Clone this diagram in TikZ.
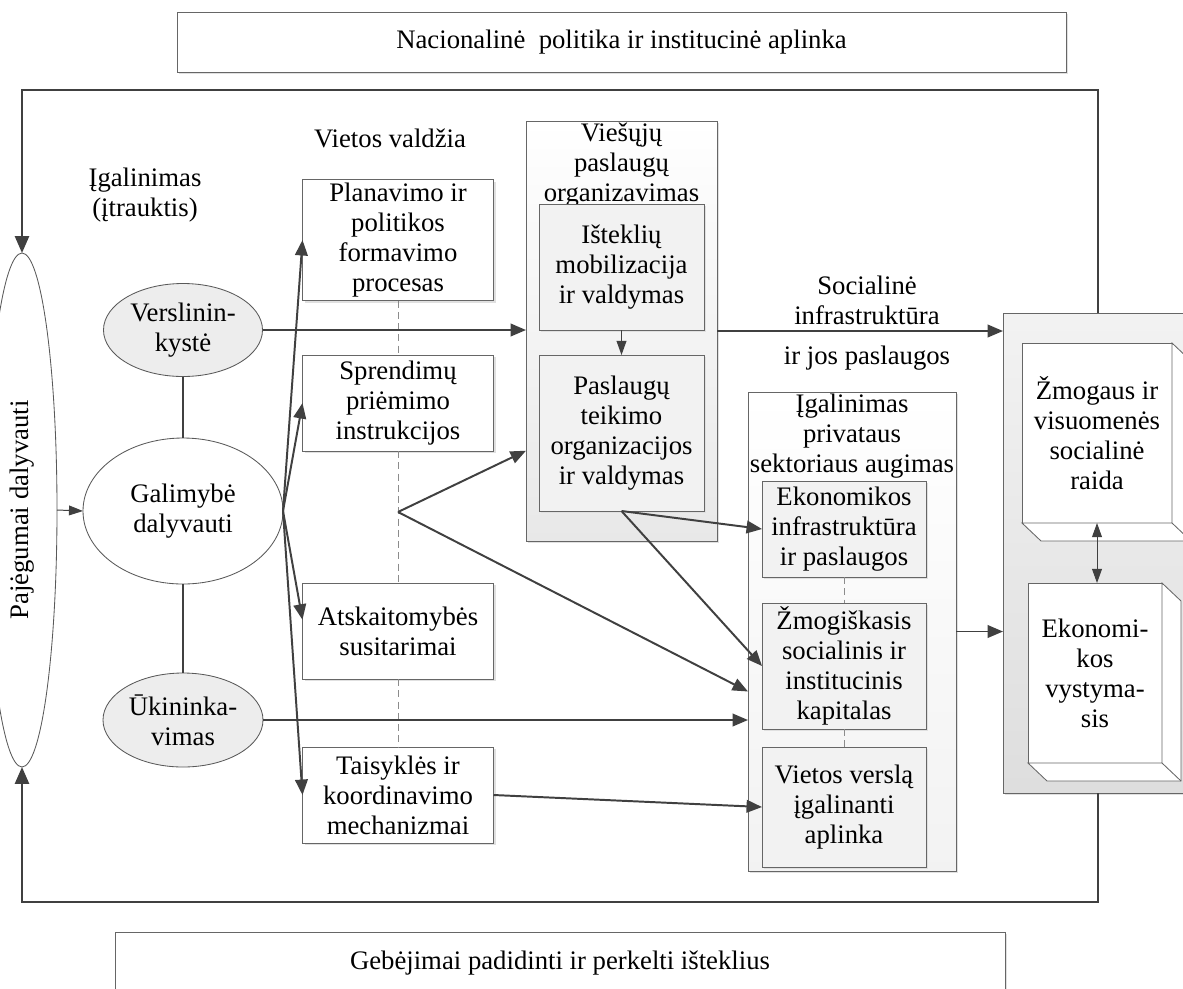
\documentclass[tikz,border=0pt]{standalone}
\usepackage{fontspec}
\setmainfont{Liberation Serif}
\usetikzlibrary{shapes.geometric,positioning,arrows.meta,calc,shadows}

\begin{document}
\begin{tikzpicture}[
    x=0.025cm, y=-0.025cm,
    every node/.style={font=\fontsize{19}{21.3}\selectfont, align=center, inner sep=0pt, outer sep=0pt},
    sz/.style 2 args={minimum width=#1*0.025cm, minimum height=#2*0.025cm},
    shdw/.style={drop shadow={shadow xshift=1.5pt, shadow yshift=-1.5pt, fill=black!12, opacity=1}},
    box/.style={draw=black!60, line width=0.6pt, fill=white, shdw},
    inbox/.style={box, fill=black!5},
    grp/.style={box, top color=white, bottom color=black!9},
    oval/.style={ellipse, draw=black!65, line width=0.6pt, fill=white},
    link/.style={draw=black!75, line width=1.4pt},
    arrow/.style={link, -{Triangle[length=11pt, width=9pt]}},
    thinarrow/.style={draw=black!75, line width=0.7pt, -{Triangle[length=10pt, width=7pt]}},
    dblarrow/.style={draw=black!75, line width=0.7pt, {Triangle[length=10pt, width=7pt]}-{Triangle[length=10pt, width=7pt]}},
    frame/.style={draw=black!75, line width=1.6pt, -{Triangle[length=12pt, width=10pt]}},
    guide/.style={draw=black!45, line width=0.6pt, dash pattern=on 5pt off 3pt},
]
\useasboundingbox (0,0) rectangle (1183,988);

% ================== Environment boxes ==================
\node[box, sz={889}{60}] (natl) at (621.5,42) {Nacionalinė~ politika ir institucinė aplinka};
\node[box, sz={890}{62}] (gebej) at (560,963) {Gebėjimai padidinti ir perkelti išteklius};

% ================== Participation ==================
\node[oval, sz={70}{514}] (pajeg) at (22,510) {};
\node[rotate=90] (pajegT) at (pajeg) {Pajėgumai dalyvauti};
\node[oval, sz={200}{146}] (galim) at (183,511) {Galimybė\\dalyvauti};
\node[oval, fill=black!7, sz={159}{93}] (versl) at (183,330) {Verslinin-\\kystė};
\node[oval, fill=black!7, sz={160}{94}] (ukin) at (183,720) {Ūkininka-\\vimas};
\node (igal) at (145,195) {Įgalinimas\\(įtrauktis)};

% ================== Local government ==================
\node (vvald) at (390,138) {Vietos valdžia};
\node[box, sz={191}{121}] (plan) at (398,240) {Planavimo ir\\politikos\\formavimo\\procesas};
\node[box, sz={191}{96}] (sprend) at (398,403) {Sprendimų\\priėmimo\\instrukcijos};
\node[box, sz={191}{96}] (atsk) at (398,631) {Atskaitomybės\\susitarimai};
\node[box, sz={191}{96}] (taisy) at (398,795) {Taisyklės ir\\koordinavimo\\mechanizmai};

\draw[guide] (plan.south) -- (sprend.north);
\draw[guide] (sprend.south) -- (atsk.north);
\draw[guide] (atsk.south) -- (taisy.north);
\coordinate (br) at (398,512);

% ================== Public services ==================
\node[grp, sz={191}{420}] (viesuj) at (621.5,331) {};
\node (viesujT) at (621.5,165) {Viešųjų\\paslaugų\\organizavimas};
\node[inbox, sz={165}{126}] (istekl) at (621.5,267) {Išteklių\\mobilizacija\\ir valdymas};
\node[inbox, sz={165}{156}] (teik) at (621.5,433) {Paslaugų\\teikimo\\organizacijos\\ir valdymas};
\draw[thinarrow] (istekl.south) -- (teik.north);

% ================== Private sector ==================
\node[grp, bottom color=black!5, sz={208}{479}] (igalpr) at (852,631.5) {};
\node (igalprT) at (852,436) {Įgalinimas\\privataus\\sektoriaus augimas};
\node[inbox, sz={164}{96}] (ekinf) at (844,529) {Ekonomikos\\infrastruktūra\\ir paslaugos};
\node[inbox, sz={164}{126}] (zmog) at (844,666) {Žmogiškasis\\socialinis ir\\institucinis\\kapitalas};
\node[inbox, sz={164}{120}] (vverslas) at (844,807) {Vietos verslą\\įgalinanti\\aplinka};

\draw[guide] (ekinf.south) -- (zmog.north);
\draw[guide] (zmog.south) -- (vverslas.north);

% ================== Development ==================
\node[grp, top color=black!5, bottom color=black!13, sz={190}{480}] (rbox) at (1098,553) {};
\node[box, sz={150}{180}] (zmh) at (1097,433) {Žmogaus ir\\visuomenės\\socialinė\\raida};
\node[box, sz={134}{180}] (ekon) at (1095,673) {Ekonomi-\\kos\\vystyma-\\sis};

\draw[draw=black!60, line width=0.6pt, fill=white] (zmh.north east) -- ++(19,18) -- ++(0,180) -- ++(-150,0) -- (zmh.south west) -- (zmh.south east) -- cycle;
\draw[draw=black!60, line width=0.6pt] (zmh.south east) -- ++(19,18);
\draw[draw=black!60, line width=0.6pt, fill=white] (ekon.north east) -- ++(19,18) -- ++(0,180) -- ++(-134,0) -- (ekon.south west) -- (ekon.south east) -- cycle;
\draw[draw=black!60, line width=0.6pt] (ekon.south east) -- ++(19,18);
\draw[dblarrow] (zmh.south) -- (zmh.south |- ekon.north);

% ================== Connectors ==================
\draw[thinarrow] (pajeg.east) -- (galim.west);
\draw[link] (versl.south) -- (galim.north);
\draw[link] (galim.south) -- (ukin.north);
\foreach \t in {plan, sprend, taisy}
    \draw[arrow] (galim.east) -- (\t.west);
\draw[arrow] (galim.east) -- ([yshift=8pt]atsk.west);

\draw[arrow] (versl.east) -- (viesuj.west |- versl.east);
\draw[arrow] (br) -- ($(viesuj.south west)!0.215!(viesuj.north west)$);
\draw[arrow] (br) -- ($(igalpr.west)+(0,60)$);
\draw[arrow] (teik.south) -- (ekinf.west);
\draw[arrow] (teik.south) -- (zmog.west);
\draw[arrow] (ukin.east) -- (igalpr.west |- ukin.east);
\draw[arrow] (taisy.east) -- (vverslas.west);

\draw[arrow] (viesuj.east) -- (rbox.west |- viesuj.east);
\node (socinf) at (867,300) {Socialinė\\infrastruktūra};
\node (jospasl) at (867,358) {ir jos paslaugos};
\draw[arrow] (igalpr.east) -- (rbox.west |- igalpr.east);

% Feedback frame
\coordinate (ftop) at (22,90);
\coordinate (fbot) at (22,902);
\draw[frame] (rbox.north) |- (ftop) -- (pajeg.north);
\draw[frame] (rbox.south) |- (fbot) -- (pajeg.south);

\end{tikzpicture}
\end{document}
